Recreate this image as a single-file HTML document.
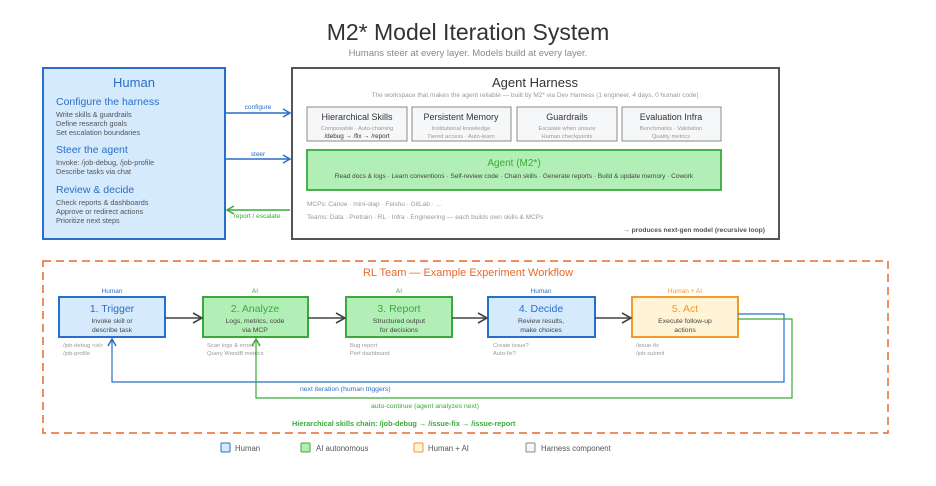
<!DOCTYPE html>
<html><head><meta charset="utf-8"><style>
html,body{margin:0;padding:0;background:#fff;}
svg{display:block;font-family:"Liberation Sans",sans-serif;}
</style></head><body>
<svg width="936" height="486" viewBox="0 0 936 486" xmlns="http://www.w3.org/2000/svg">
<defs>
<marker id="ab" markerWidth="10" markerHeight="10" refX="8" refY="5" orient="auto" markerUnits="userSpaceOnUse"><path d="M1,1 L8,5 L1,9" fill="none" stroke="#2a6fc7" stroke-width="1.5"/></marker>
<marker id="ag" markerWidth="10" markerHeight="10" refX="8" refY="5" orient="auto" markerUnits="userSpaceOnUse"><path d="M1,1 L8,5 L1,9" fill="none" stroke="#3aaa3a" stroke-width="1.5"/></marker>
<marker id="ak" markerWidth="12" markerHeight="12" refX="10" refY="6" orient="auto" markerUnits="userSpaceOnUse"><path d="M1,1 L10,6 L1,11" fill="none" stroke="#444" stroke-width="1.6"/></marker>
</defs>
<text x="468" y="40" text-anchor="middle" font-size="23" fill="#333">M2* Model Iteration System</text>
<text x="468" y="56" text-anchor="middle" font-size="9.5" fill="#888">Humans steer at every layer. Models build at every layer.</text>

<!-- Human -->
<rect x="43" y="68" width="182" height="171" fill="#d5eafc" stroke="#2a6fc7" stroke-width="2"/>
<text x="134" y="87" text-anchor="middle" font-size="13" fill="#2a6fc7">Human</text>
<g font-size="10.5" fill="#2a6fc7"><text x="56" y="105">Configure the harness</text><text x="56" y="153">Steer the agent</text><text x="56" y="193">Review &amp; decide</text></g>
<g font-size="7.3" fill="#555">
<text x="56" y="117">Write skills &amp; guardrails</text><text x="56" y="126">Define research goals</text><text x="56" y="135">Set escalation boundaries</text>
<text x="56" y="165">Invoke: /job-debug, /job-profile</text><text x="56" y="174">Describe tasks via chat</text>
<text x="56" y="205">Check reports &amp; dashboards</text><text x="56" y="214">Approve or redirect actions</text><text x="56" y="223">Prioritize next steps</text>
</g>
<line x1="226" y1="113" x2="290" y2="113" stroke="#2a6fc7" stroke-width="1.5" marker-end="url(#ab)"/>
<line x1="226" y1="159" x2="290" y2="159" stroke="#2a6fc7" stroke-width="1.5" marker-end="url(#ab)"/>
<line x1="290" y1="210" x2="227" y2="210" stroke="#3aaa3a" stroke-width="1.5" marker-end="url(#ag)"/>
<text x="258" y="109" text-anchor="middle" font-size="6.5" fill="#2a6fc7">configure</text>
<text x="258" y="156" text-anchor="middle" font-size="6.5" fill="#2a6fc7">steer</text>
<text x="257" y="218" text-anchor="middle" font-size="6.5" fill="#3aaa3a">report / escalate</text>

<!-- Harness -->
<rect x="292" y="68" width="487" height="171" fill="#fff" stroke="#555" stroke-width="2"/>
<text x="535" y="87" text-anchor="middle" font-size="13" fill="#333">Agent Harness</text>
<text x="535" y="97" text-anchor="middle" font-size="6.5" fill="#999">The workspace that makes the agent reliable — built by M2* via Dev Harness (1 engineer, 4 days, 0 human code)</text>
<g fill="#f6f7f9" stroke="#888" stroke-width="1">
<rect x="307" y="107" width="100" height="34"/><rect x="412" y="107" width="99" height="34"/><rect x="517" y="107" width="100" height="34"/><rect x="622" y="107" width="99" height="34"/></g>
<g font-size="9" fill="#333" text-anchor="middle"><text x="357" y="120">Hierarchical Skills</text><text x="461" y="120">Persistent Memory</text><text x="567" y="120">Guardrails</text><text x="671" y="120">Evaluation Infra</text></g>
<g font-size="5.8" fill="#999" text-anchor="middle">
<text x="357" y="130">Composable · Auto-chaining</text><text x="357" y="138" fill="#333" font-size="6.3">/debug → /fix → /report</text>
<text x="461" y="130">Institutional knowledge</text><text x="461" y="138">Tiered access · Auto-learn</text>
<text x="567" y="130">Escalate when unsure</text><text x="567" y="138">Human checkpoints</text>
<text x="671" y="130">Benchmarks · Validation</text><text x="671" y="138">Quality metrics</text></g>
<rect x="307" y="150" width="414" height="40" fill="#b2efb7" stroke="#3aaa3a" stroke-width="1.8"/>
<text x="514" y="166" text-anchor="middle" font-size="10" fill="#3aaa3a">Agent (M2*)</text>
<text x="514" y="178" text-anchor="middle" font-size="6.5" fill="#444">Read docs &amp; logs · Learn conventions · Self-review code · Chain skills · Generate reports · Build &amp; update memory · Cowork</text>
<text x="307" y="206" font-size="6.5" fill="#999">MCPs: Canoe · mini-olap · Feishu · GitLab · ...</text>
<text x="307" y="219" font-size="6.5" fill="#999">Teams: Data · Pretrain · RL · Infra · Engineering — each builds own skills &amp; MCPs</text>
<text x="765" y="232" text-anchor="end" font-size="6.7" fill="#555" font-weight="bold">→ produces next-gen model (recursive loop)</text>

<!-- RL Team -->
<rect x="43" y="261" width="845" height="172" fill="none" stroke="#e8692a" stroke-width="1.5" stroke-dasharray="8,5"/>
<text x="468" y="276" text-anchor="middle" font-size="11" fill="#e8692a">RL Team — Example Experiment Workflow</text>
<g font-size="6.5" text-anchor="middle"><text x="112" y="293" fill="#2a6fc7">Human</text><text x="255" y="293" fill="#3aaa3a">AI</text><text x="399" y="293" fill="#3aaa3a">AI</text><text x="541" y="293" fill="#2a6fc7">Human</text><text x="685" y="293" fill="#f39a2a">Human + AI</text></g>
<rect x="59" y="297" width="106" height="40" fill="#d5eafc" stroke="#2a6fc7" stroke-width="2"/>
<rect x="203" y="297" width="105" height="40" fill="#b2efb7" stroke="#3aaa3a" stroke-width="2"/>
<rect x="346" y="297" width="106" height="40" fill="#b2efb7" stroke="#3aaa3a" stroke-width="2"/>
<rect x="488" y="297" width="107" height="40" fill="#d5eafc" stroke="#2a6fc7" stroke-width="2"/>
<rect x="632" y="297" width="106" height="40" fill="#fff5d6" stroke="#f39a2a" stroke-width="2"/>
<g font-size="10.5" text-anchor="middle"><text x="112" y="312" fill="#2a6fc7">1. Trigger</text><text x="255" y="312" fill="#3aaa3a">2. Analyze</text><text x="399" y="312" fill="#3aaa3a">3. Report</text><text x="541" y="312" fill="#2a6fc7">4. Decide</text><text x="685" y="312" fill="#f39a2a">5. Act</text></g>
<g font-size="6.8" text-anchor="middle" fill="#444">
<text x="112" y="323">Invoke skill or</text><text x="112" y="332">describe task</text>
<text x="255" y="323">Logs, metrics, code</text><text x="255" y="332">via MCP</text>
<text x="399" y="323">Structured output</text><text x="399" y="332">for decisions</text>
<text x="541" y="323">Review results,</text><text x="541" y="332">make choices</text>
<text x="685" y="323">Execute follow-up</text><text x="685" y="332">actions</text></g>
<g font-size="5.8" fill="#999">
<text x="63" y="347">/job-debug &lt;id&gt;</text><text x="63" y="355">/job-profile</text>
<text x="207" y="347">Scan logs &amp; errors</text><text x="207" y="355">Query WandB metrics</text>
<text x="350" y="347">Bug report</text><text x="350" y="355">Perf dashboard</text>
<text x="493" y="347">Create issue?</text><text x="493" y="355">Auto-fix?</text>
<text x="636" y="347">/issue-fix</text><text x="636" y="355">/job-submit</text></g>
<g stroke="#444" stroke-width="1.6"><line x1="165" y1="318" x2="202" y2="318" marker-end="url(#ak)"/><line x1="308" y1="318" x2="345" y2="318" marker-end="url(#ak)"/><line x1="452" y1="318" x2="487" y2="318" marker-end="url(#ak)"/><line x1="595" y1="318" x2="631" y2="318" marker-end="url(#ak)"/></g>
<polyline points="738,314 784,314 784,382 112,382 112,339" fill="none" stroke="#2a6fc7" stroke-width="1.2" marker-end="url(#ab)"/>
<polyline points="738,319 792,319 792,398 256,398 256,339" fill="none" stroke="#3aaa3a" stroke-width="1.2" marker-end="url(#ag)"/>
<text x="300" y="391" font-size="6.8" fill="#2a6fc7">next iteration (human triggers)</text>
<text x="371" y="408" font-size="6.8" fill="#3aaa3a">auto-continue (agent analyzes next)</text>
<text x="292" y="426" font-size="7.3" font-weight="bold" fill="#3aaa3a">Hierarchical skills chain: /job-debug → /issue-fix → /issue-report</text>

<!-- legend -->
<rect x="221" y="443" width="9" height="9" rx="1" fill="#d5eafc" stroke="#2a6fc7"/><text x="235" y="451" font-size="7.8" fill="#555">Human</text>
<rect x="301" y="443" width="9" height="9" rx="1" fill="#b2efb7" stroke="#3aaa3a"/><text x="316" y="451" font-size="7.8" fill="#555">AI autonomous</text>
<rect x="414" y="443" width="9" height="9" rx="1" fill="#fff5d6" stroke="#f39a2a"/><text x="428" y="451" font-size="7.8" fill="#555">Human + AI</text>
<rect x="526" y="443" width="9" height="9" rx="1" fill="#f6f7f9" stroke="#888"/><text x="541" y="451" font-size="7.8" fill="#555">Harness component</text>
</svg>
</body></html>
